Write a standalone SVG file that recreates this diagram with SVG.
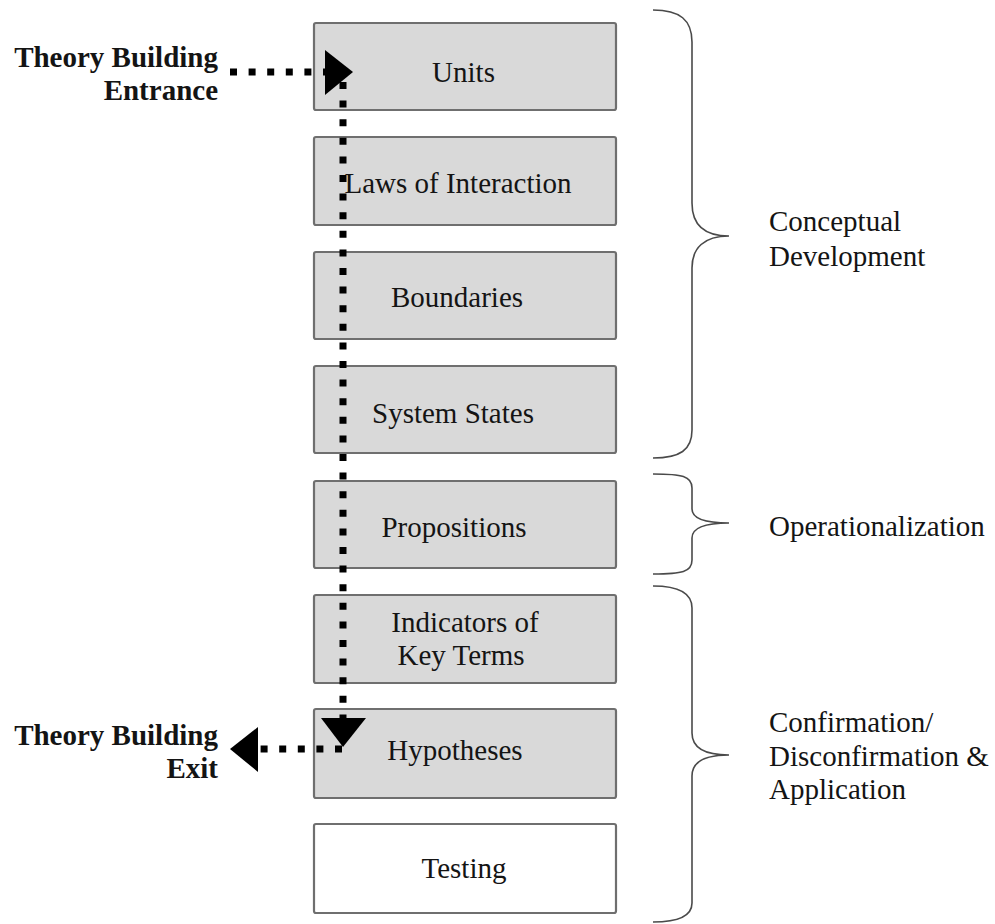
<svg xmlns="http://www.w3.org/2000/svg" width="995" height="924" viewBox="0 0 995 924">
  <style>
    .box { fill: #d9d9d9; stroke: #6f6f6f; stroke-width: 2.2; }
    .box.plain { fill: #ffffff; }
    .lbl { font-family: "Liberation Serif", "Times New Roman", serif; font-size: 29px; fill: #141414; }
    .mid { text-anchor: middle; }
    .side { font-family: "Liberation Serif", "Times New Roman", serif; font-size: 29px; fill: #141414; font-weight: bold; text-anchor: end; }
    .brace { fill: none; stroke: #4a4a4a; stroke-width: 1.6; }
    .dots { fill: none; stroke: #000; stroke-width: 7; stroke-dasharray: 7 11.6; }
    .head { fill: #000; }
  </style>

  <rect width="995" height="924" fill="#ffffff"/>

  <!-- stacked stages -->
  <g id="units">
    <rect class="box" x="314" y="23" width="302" height="87" rx="2"/>
    <text class="lbl mid" x="463.5" y="82">Units</text>
  </g>
  <g id="laws">
    <rect class="box" x="314" y="137" width="302" height="88" rx="2"/>
    <text class="lbl mid" x="458" y="193">Laws of Interaction</text>
  </g>
  <g id="boundaries">
    <rect class="box" x="314" y="252" width="302" height="87" rx="2"/>
    <text class="lbl mid" x="457" y="307">Boundaries</text>
  </g>
  <g id="system-states">
    <rect class="box" x="314" y="366" width="302" height="87" rx="2"/>
    <text class="lbl mid" x="453" y="423">System States</text>
  </g>
  <g id="propositions">
    <rect class="box" x="314" y="481" width="302" height="87" rx="2"/>
    <text class="lbl mid" x="454" y="537">Propositions</text>
  </g>
  <g id="indicators">
    <rect class="box" x="314" y="595" width="302" height="88" rx="2"/>
    <text class="lbl mid" x="465" y="632">Indicators of</text>
    <text class="lbl mid" x="461" y="665">Key Terms</text>
  </g>
  <g id="hypotheses">
    <rect class="box" x="314" y="709" width="302" height="89" rx="2"/>
    <text class="lbl mid" x="455" y="760">Hypotheses</text>
  </g>
  <g id="testing">
    <rect class="box plain" x="314" y="824" width="302" height="89" rx="2"/>
    <text class="lbl mid" x="464" y="878">Testing</text>
  </g>

  <!-- entrance / exit labels -->
  <g id="entrance">
    <text class="side" x="218" y="67">Theory Building</text>
    <text class="side" x="218" y="100">Entrance</text>
  </g>
  <g id="exit">
    <text class="side" x="218" y="745">Theory Building</text>
    <text class="side" x="218" y="778">Exit</text>
  </g>

  <!-- phase braces -->
  <g id="conceptual-development">
    <path class="brace" d="M653,10 C680,10 692,20 692,42 L692,203 C692,224 704,236 729,236 C704,236 692,248 692,268 L692,430 C692,450 680,458 653,458"/>
    <text class="lbl" x="769" y="231">Conceptual</text>
    <text class="lbl" x="769" y="266">Development</text>
  </g>
  <g id="operationalization">
    <path class="brace" d="M653,474 C682,474 692,476 692,488 L692,509 C692,518 704,523 729,523 C704,523 692,528 692,538 L692,560 C692,572 682,574 653,574"/>
    <text class="lbl" x="769" y="536">Operationalization</text>
  </g>
  <g id="confirmation">
    <path class="brace" d="M653,586 C680,586 692,594 692,608 L692,733 C692,748 704,755 729,755 C704,755 692,762 692,776 L692,903 C692,915 680,922 653,922"/>
    <text class="lbl" x="769" y="732">Confirmation/</text>
    <text class="lbl" x="769" y="766">Disconfirmation &amp;</text>
    <text class="lbl" x="769" y="799">Application</text>
  </g>

  <!-- dotted path through the stages -->
  <g id="connectors">
    <path class="dots" d="M230,72 L325,72"/>
    <polygon class="head" points="325,50 353,72 325,95"/>
    <path class="dots" d="M343,82 L343,720"/>
    <polygon class="head" points="321,718 366,718 343,747"/>
    <path class="dots" d="M342,749 L258,749"/>
    <polygon class="head" points="258,727 230,749 258,772"/>
  </g>
</svg>
